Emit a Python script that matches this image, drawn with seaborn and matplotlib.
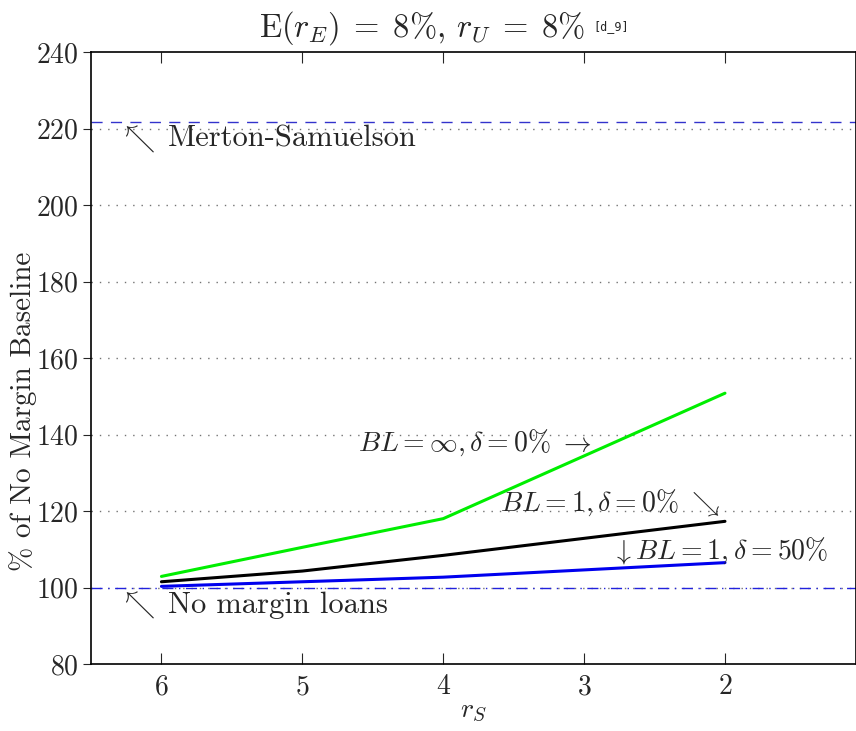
import numpy as np
import pandas as pd
import seaborn as sns
import matplotlib.pyplot as plt

# values
r_s = [6, 5, 4, 2]
green_vals = [102.9, 110.5, 118.0, 150.8]   # BL = inf, delta = 0%
black_vals = [101.5, 104.3, 108.4, 117.3]   # BL = 1, delta = 0%
blue_vals = [100.3, 101.5, 102.7, 106.5]    # BL = 1, delta = 50%
merton = 221.7
baseline = 100.0
x_ticks = [6, 5, 4, 3, 2]
y_ticks = [80, 100, 120, 140, 160, 180, 200, 220, 240]

df = pd.DataFrame({
    "rs": r_s * 3,
    "val": green_vals + black_vals + blue_vals,
    "series": ["green"] * 4 + ["black"] * 4 + ["blue"] * 4,
})

sns.set_theme(style="white")
plt.rcParams["font.family"] = ["serif"]
plt.rcParams["font.serif"] = ["cmr10", "DejaVu Serif"]
plt.rcParams["mathtext.fontset"] = "cm"
plt.rcParams["axes.formatter.use_mathtext"] = True

fig = plt.figure(figsize=(8.56, 7.31), dpi=100)
ax = fig.add_axes([91 / 856, 1 - 664 / 731, 1 - 91 / 856, (664 - 52) / 731])

for y in y_ticks[1:-1]:
    ax.axhline(y, color="0.45", lw=1.0, ls=(0, (1, 5)), zorder=1)
ax.axhline(merton, color="#3333cc", lw=1.0, ls=(0, (8, 6)), zorder=2)
ax.axhline(baseline, color="#2222dd", lw=1.0, ls=(0, (8, 4, 1, 4)), zorder=2)

sns.lineplot(data=df, x="rs", y="val", hue="series",
             palette={"green": "#00ee00", "black": "black", "blue": "#0000ee"},
             lw=2.2, legend=False, ax=ax, zorder=3)

ax.set_xlim(6.5, 1.07)
ax.set_ylim(80, 240)
ax.set_xticks(x_ticks)
ax.set_yticks(y_ticks)
ax.tick_params(axis="x", direction="in", length=8, top=True, bottom=True,
               labelsize=20, pad=7, width=0.8)
ax.tick_params(axis="y", direction="out", length=6, left=True, labelsize=20, width=0.8, pad=3)
for s in ax.spines.values():
    s.set_color("black")
    s.set_linewidth(1.2)

ax.set_xlabel(r"$r_S$", fontsize=20, labelpad=-2)
ax.set_ylabel("")
fig.text(23 / 856, 1 - 411 / 731, "% of No Margin Baseline", fontsize=21,
         rotation=90, ha="center", va="center")

ax.text(6.30, 217.4, r"$\nwarrow$", fontsize=22, va="center", ha="left")
ax.text(5.955, 217.2, "Merton-Samuelson", fontsize=22, va="center", ha="left")
ax.text(6.30, 95.6, r"$\nwarrow$", fontsize=22, va="center", ha="left")
ax.text(5.955, 95.4, "No margin loans", fontsize=22, va="center", ha="left")
ax.text(2.95, 137.8, r"$BL=\infty,\delta=0\%\ \rightarrow$", fontsize=20, va="center", ha="right")
ax.text(2.03, 122.2, r"$BL=1,\delta=0\%\ \searrow$", fontsize=20, va="center", ha="right")
ax.text(2.8, 109.6, r"$\downarrow BL=1,\delta=50\%$", fontsize=20, va="center", ha="left")

fig.text(0.302, 0.988, r"$\mathrm{E}(r_E)\;=\;8\%$, $r_U\;=\;8\%$", fontsize=23.5, va="top", ha="left")
fig.text(0.693, 0.972, "[d_9]", fontsize=8.5, family="monospace", va="top", ha="left")

fig.savefig("out.png", dpi=100)
